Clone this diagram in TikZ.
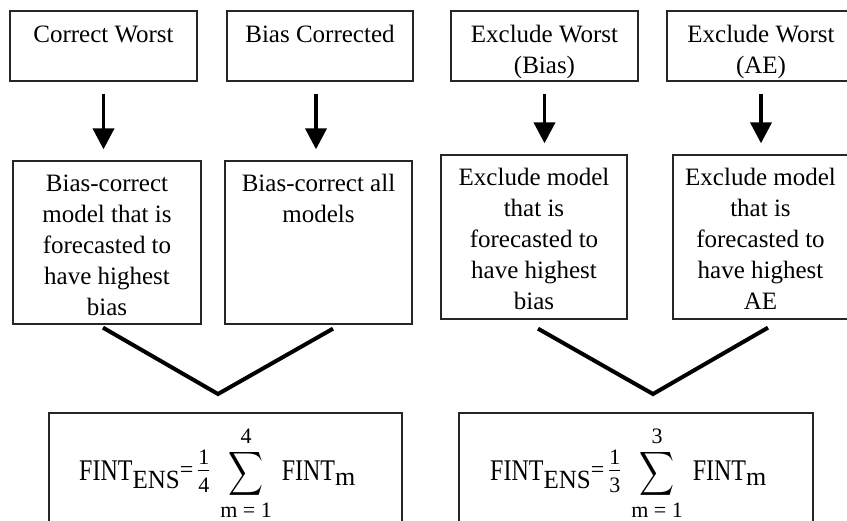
\documentclass[tikz,border=0pt]{standalone}
\usepackage{graphicx}
\usepackage{fontspec}
\setmainfont{Liberation Serif}
\usetikzlibrary{arrows.meta,calc}

% font used for the limits and the fraction digits
\newcommand\smallfig{\fontsize{22}{22}\selectfont}

% tall capitals used in the formula
\newcommand\tallcaps[1]{\scalebox{1}[1.25]{#1}}

% stacked fraction 1/#1 with its bar on the formula axis
\newcommand\stackfrac[1]{%
  \raisebox{-12pt}{\vbox{\offinterlineskip\smallfig
    \hbox{1}\kern5.5pt\hrule height 0.9pt\kern7pt\hbox{#1}}}}

% large summation sign, sitting on the baseline
\newcommand\sumglyph{\resizebox*{35pt}{49pt}{\raisebox{\depth}{$\displaystyle\sum$}}}

% summation with limits m = 1 .. #1
\newcommand\bigsum[1]{%
  \raisebox{-37pt}{\vbox{\offinterlineskip\halign{\hfil##\hfil\cr
    \smallfig #1\cr\noalign{\kern6pt}
    \sumglyph\cr\noalign{\kern4pt}
    \smallfig m = 1\cr}}}}

% ensemble mean formula; #1 is the number of members
\newcommand\ensformula[1]{%
  \tallcaps{FINT}\raisebox{-8pt}{\fontsize{25}{28}\selectfont\scalebox{1}[1.05]{ENS}}%
  \raisebox{3pt}{=}\kern5pt
  \stackfrac{#1}\kern11pt\bigsum{#1}\kern10pt
  \tallcaps{FINT}\raisebox{-5pt}{\fontsize{26}{28}\selectfont m}}

\tikzset{
  frame/.style={draw=black!85, line width=1.3pt, inner sep=0pt},
  boxtext/.style={anchor=north, inner sep=0pt, align=center,
                  font=\fontsize{25}{31}\selectfont},
  downarrow/.style={line width=3.8pt, shorten <=12pt, shorten >=11pt,
                    -{Triangle[width=21pt,length=21pt]}},
  joinline/.style={line width=4pt, line join=miter},
  formula/.style={anchor=base west, inner sep=0pt, font=\fontsize{24}{28}\selectfont}
}

\begin{document}
\begin{tikzpicture}[x=1pt,y=-1pt]
\useasboundingbox (0,0) rectangle (847,520);
\clip (0,0) rectangle (847,520);

% top row: the four strategies
\node[frame, minimum width=187pt, minimum height=70pt] (t1) at (103.5,46) {};
\node[frame, minimum width=186pt, minimum height=70pt] (t2) at (320,46) {};
\node[frame, minimum width=187pt, minimum height=70pt] (t3) at (544.5,46) {};
\node[frame, minimum width=188pt, minimum height=70pt] (t4) at (761,46) {};

\node[boxtext] (t1x) at ([yshift=-15pt]t1.north) {Correct Worst};
\node[boxtext] (t2x) at ([yshift=-15pt]t2.north) {Bias Corrected};
\node[boxtext] (t3x) at ([yshift=-15pt]t3.north) {Exclude Worst\\(Bias)};
\node[boxtext] (t4x) at ([yshift=-15pt]t4.north) {Exclude Worst\\(AE)};

% middle row: what each strategy does
\node[frame, minimum width=188pt, minimum height=163pt] (m1) at (107,242.5) {};
\node[frame, minimum width=187pt, minimum height=163pt] (m2) at (318.5,242.5) {};
\node[frame, minimum width=186pt, minimum height=164pt] (m3) at (534,237) {};
\node[frame, minimum width=175pt, minimum height=164pt] (m4) at (760.5,237) {};

\node[boxtext] (m1x) at ([yshift=-14pt]m1.north)
  {Bias-correct\\model that is\\forecasted to\\have highest\\bias};
\node[boxtext] (m2x) at ([yshift=-14pt]m2.north)
  {Bias-correct all\\models};
\node[boxtext] (m3x) at ([yshift=-14pt]m3.north)
  {Exclude model\\that is\\forecasted to\\have highest\\bias};
\node[boxtext] (m4x) at ([yshift=-14pt]m4.north)
  {Exclude model\\that is\\forecasted to\\have highest\\AE};

% bottom row: ensemble formulas
\node[frame, minimum width=353pt, minimum height=130pt] (b1) at (225.5,478) {};
\node[frame, minimum width=354pt, minimum height=130pt] (b2) at (636,478) {};

\node[formula] (f1) at (79,480) {\ensformula{4}};
\node[formula] (f2) at (490,480) {\ensformula{3}};

% arrows from strategy to action
\draw[downarrow] (t1.south) -- (t1.south |- m1.north);
\draw[downarrow] ([xshift=-4pt]t2.south) -- ([xshift=-4pt]t2.south |- m2.north);
\draw[downarrow] (t3.south) -- (t3.south |- m3.north);
\draw[downarrow] (t4.south) -- (t4.south |- m4.north);

% merging lines
\coordinate (j1) at (218,394);
\coordinate (j2) at (653,394);
\draw[joinline] ($(m1.south)+(-4,3)$) -- (j1) -- ($(m2.south)+(14.5,4)$);
\draw[joinline] ($(m3.south)+(4,9)$) -- (j2) -- ($(m4.south)+(7.5,8)$);
\end{tikzpicture}
\end{document}
